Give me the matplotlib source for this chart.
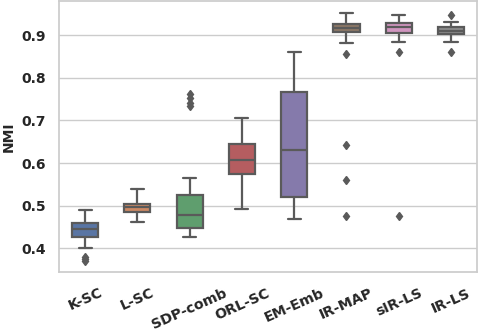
import matplotlib
matplotlib.use("Agg")
import matplotlib.pyplot as plt
import seaborn as sns

# box statistics
methods = ["K-SC", "L-SC", "SDP-comb", "ORL-SC", "EM-Emb", "IR-MAP", "sIR-LS", "IR-LS"]
whis_lo = [0.401, 0.463, 0.427, 0.492, 0.468, 0.882, 0.884, 0.884]
q1 = [0.427, 0.485, 0.448, 0.574, 0.521, 0.907, 0.905, 0.902]
median = [0.445, 0.497, 0.478, 0.607, 0.631, 0.917, 0.918, 0.909]
q3 = [0.460, 0.505, 0.526, 0.645, 0.767, 0.926, 0.929, 0.919]
whis_hi = [0.490, 0.539, 0.566, 0.705, 0.861, 0.952, 0.948, 0.931]
fliers = [
    [0.370, 0.375, 0.380],
    [],
    [0.733, 0.742, 0.752, 0.762],
    [],
    [],
    [0.855, 0.642, 0.560, 0.476],
    [0.860, 0.476],
    [0.948, 0.860],
]

sns.set_theme(style="whitegrid")
colors = sns.color_palette("deep", 8)
colors = [sns.desaturate(c, 0.75) for c in colors]

stats = []
for i, m in enumerate(methods):
    stats.append(dict(label=m, whislo=whis_lo[i], q1=q1[i], med=median[i],
                      q3=q3[i], whishi=whis_hi[i], fliers=fliers[i]))

fig = plt.figure(figsize=(4.8, 3.32), dpi=100)
ax = fig.add_axes([0.123, 0.181, 0.871, 0.816])

gray = "#5a5a5a"
bp = ax.bxp(stats, positions=range(len(methods)), widths=0.5, patch_artist=True,
            boxprops=dict(edgecolor=gray, linewidth=1.6),
            whiskerprops=dict(color=gray, linewidth=1.6),
            capprops=dict(color=gray, linewidth=1.6),
            medianprops=dict(color=gray, linewidth=1.6),
            flierprops=dict(marker="d", markerfacecolor=gray, markeredgecolor=gray,
                            markersize=4.5, linestyle="none"))
for patch, c in zip(bp["boxes"], colors):
    patch.set_facecolor(c)

ax.set_xlim(-0.5, len(methods) - 0.5)
ax.set_ylim(0.345, 0.98)
ax.set_yticks([0.4, 0.5, 0.6, 0.7, 0.8, 0.9])
ax.xaxis.grid(False)
ax.set_xticks(range(len(methods)))
ax.set_xticklabels(methods, rotation=24, fontweight="bold", fontsize=10.2)
ax.tick_params(axis="x", pad=4)
for lab in ax.get_yticklabels():
    lab.set_fontweight("bold")
    lab.set_fontsize(10)
ax.set_ylabel("NMI", fontweight="bold", fontsize=10)

fig.savefig("out.png", dpi=100)
